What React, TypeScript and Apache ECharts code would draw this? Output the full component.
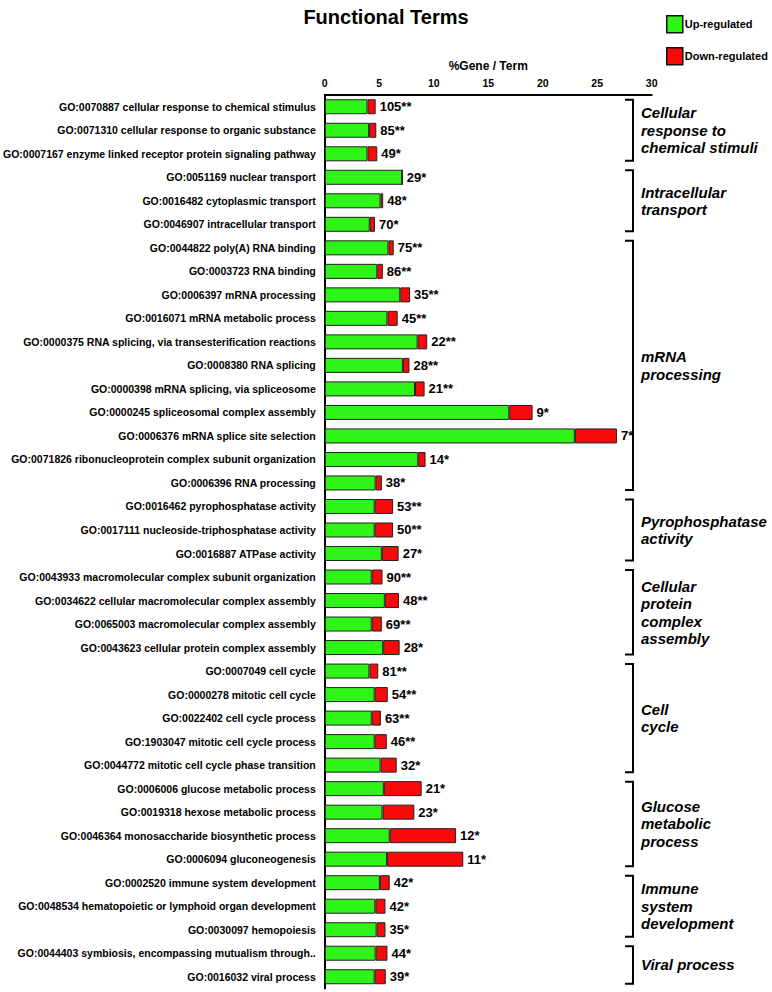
import React, { useEffect, useRef } from "react";
import * as echarts from "echarts";

const categories: string[] = [
  "GO:0070887 cellular response to chemical stimulus",
  "GO:0071310 cellular response to organic substance",
  "GO:0007167 enzyme linked receptor protein signaling pathway",
  "GO:0051169 nuclear transport",
  "GO:0016482 cytoplasmic transport",
  "GO:0046907 intracellular transport",
  "GO:0044822 poly(A) RNA binding",
  "GO:0003723 RNA binding",
  "GO:0006397 mRNA processing",
  "GO:0016071 mRNA metabolic process",
  "GO:0000375 RNA splicing, via transesterification reactions",
  "GO:0008380 RNA splicing",
  "GO:0000398 mRNA splicing, via spliceosome",
  "GO:0000245 spliceosomal complex assembly",
  "GO:0006376 mRNA splice site selection",
  "GO:0071826 ribonucleoprotein complex subunit organization",
  "GO:0006396 RNA processing",
  "GO:0016462 pyrophosphatase activity",
  "GO:0017111 nucleoside-triphosphatase activity",
  "GO:0016887 ATPase activity",
  "GO:0043933 macromolecular complex subunit organization",
  "GO:0034622 cellular macromolecular complex assembly",
  "GO:0065003 macromolecular complex assembly",
  "GO:0043623 cellular protein complex assembly",
  "GO:0007049 cell cycle",
  "GO:0000278 mitotic cell cycle",
  "GO:0022402 cell cycle process",
  "GO:1903047 mitotic cell cycle process",
  "GO:0044772 mitotic cell cycle phase transition",
  "GO:0006006 glucose metabolic process",
  "GO:0019318 hexose metabolic process",
  "GO:0046364 monosaccharide biosynthetic process",
  "GO:0006094 gluconeogenesis",
  "GO:0002520 immune system development",
  "GO:0048534 hematopoietic or lymphoid organ development",
  "GO:0030097 hemopoiesis",
  "GO:0044403 symbiosis, encompassing mutualism through..",
  "GO:0016032 viral process",
];

const upRegulated: number[] = [
  3.92, 4.07, 3.92, 7.11, 5.12, 4.13, 5.84, 4.82, 6.93, 5.75, 8.52, 7.17, 8.28,
  16.93, 22.95, 8.58, 4.67, 4.58, 4.58, 5.24, 4.31, 5.51, 4.31, 5.36, 4.1, 4.58,
  4.31, 4.58, 5.12, 5.42, 5.3, 5.96, 5.72, 5.06, 4.64, 4.76, 4.67, 4.58,
];

const downRegulated: number[] = [
  0.75, 0.66, 0.9, 0, 0.24, 0.48, 0.49, 0.51, 0.9, 0.94, 0.88, 0.6, 0.88, 2.14,
  3.86, 0.67, 0.57, 1.69, 1.69, 1.54, 0.99, 1.3, 0.93, 1.51, 0.81, 1.2, 0.84,
  1.11, 1.48, 3.47, 2.92, 6.09, 6.99, 0.9, 0.93, 0.81, 1.08, 1.02,
];

const geneCounts: number[] = [
  105, 85, 49, 29, 48, 70, 75, 86, 35, 45, 22, 28, 21, 9, 7, 14, 38, 53, 50, 27,
  90, 48, 69, 28, 81, 54, 63, 46, 32, 21, 23, 12, 11, 42, 42, 35, 44, 39,
];

const significance: string[] = [
  "**", "**", "*", "*", "*", "*", "**", "**", "**", "**", "**", "**", "**", "*",
  "*", "*", "*", "**", "**", "*", "**", "**", "**", "*", "**", "**", "**", "**",
  "*", "*", "*", "*", "*", "*", "*", "*", "*", "*",
];

const groupNames: string[] = [
  "Cellular\nresponse to\nchemical stimuli",
  "Intracellular\ntransport",
  "mRNA\nprocessing",
  "Pyrophosphatase\nactivity",
  "Cellular\nprotein\ncomplex\nassembly",
  "Cell\ncycle",
  "Glucose\nmetabolic\nprocess",
  "Immune\nsystem\ndevelopment",
  "Viral process",
];
const groupSizes: number[] = [3, 3, 11, 3, 4, 5, 4, 3, 2];

const xTicks = { min: 0, max: 30, interval: 5 };

const FONT = "'Liberation Sans', Arial, sans-serif";
const GREEN = "#2ff417";
const RED = "#f80a0a";

export default function App() {
  const ref = useRef<HTMLDivElement>(null);

  useEffect(() => {
    if (!ref.current) return;
    const chart = echarts.init(ref.current, null, { renderer: "svg" });
    const option: any = {
      animation: false,
      backgroundColor: "#ffffff",
      textStyle: { fontFamily: FONT },
      title: {
        text: "Functional Terms",
        left: "center",
        top: 2,
        textStyle: { fontSize: 20, fontWeight: "bold", color: "#000", fontFamily: FONT },
      },
      legend: {
        data: ["Up-regulated", "Down-regulated"],
        orient: "vertical",
        left: 666,
        top: 15,
        padding: 0,
        itemWidth: 16,
        itemHeight: 17,
        itemGap: 13.5,
        icon: "rect",
        itemStyle: { borderColor: "#111", borderWidth: 1.5 },
        textStyle: { fontSize: 11, fontWeight: "bold", color: "#000", padding: [0, 0, 0, -3], fontFamily: FONT },
      },
      grid: { left: 320.5, right: 120.3, top: 95, bottom: 3.5, containLabel: false },
      xAxis: {
        type: "value",
        position: "top",
        min: xTicks.min,
        max: xTicks.max,
        interval: xTicks.interval,
        name: "%Gene / Term",
        nameLocation: "middle",
        nameGap: 23,
        nameTextStyle: { fontSize: 12, fontWeight: "bold", color: "#000", fontFamily: FONT },
        axisLine: { show: true, lineStyle: { color: "#000", width: 2 } },
        axisTick: { show: false },
        splitLine: { show: false },
        axisLabel: { fontSize: 10.5, fontWeight: "bold", color: "#000", margin: 7, fontFamily: FONT },
      },
      yAxis: {
        type: "category",
        inverse: true,
        data: categories,
        axisLine: { show: true, lineStyle: { color: "#000", width: 2 } },
        axisTick: { show: false },
        splitLine: { show: false },
        axisLabel: { fontSize: 10.5, fontWeight: "bold", color: "#000", margin: 9, fontFamily: FONT },
      },
      series: [
        {
          name: "Up-regulated",
          type: "bar",
          stack: "total",
          barWidth: 15,
          data: upRegulated,
          itemStyle: { color: GREEN, borderColor: "#222", borderWidth: 1 },
        },
        {
          name: "Down-regulated",
          type: "bar",
          stack: "total",
          barWidth: 15,
          data: downRegulated,
          itemStyle: { color: RED, borderColor: "#222", borderWidth: 1 },
          label: {
            show: true,
            position: "right",
            distance: 4,
            fontSize: 13,
            fontWeight: "bold",
            color: "#000",
            fontFamily: FONT,
            formatter: (p: any) => `${geneCounts[p.dataIndex]}${significance[p.dataIndex]}`,
          },
        },
      ],
    };
    chart.setOption(option);

    // Group brackets, positioned from the category axis
    const graphics: any[] = [];
    let start = 0;
    const bx = 633;
    const tick = 8;
    groupSizes.forEach((size, gi) => {
      const first = categories[start];
      const last = categories[start + size - 1];
      const y0 = (chart.convertToPixel({ yAxisIndex: 0 }, first) as number) - 7;
      const y1 = (chart.convertToPixel({ yAxisIndex: 0 }, last) as number) + 7;
      graphics.push({
        type: "polyline",
        shape: { points: [[bx - tick, y0], [bx, y0], [bx, y1], [bx - tick, y1]] },
        style: { stroke: "#000", lineWidth: 2, fill: null },
        silent: true,
      });
      graphics.push({
        type: "text",
        x: 641,
        y: (y0 + y1) / 2,
        style: {
          text: groupNames[gi],
          fontFamily: FONT,
          fontSize: 15,
          fontWeight: "bold",
          fontStyle: "italic",
          lineHeight: 17.5,
          fill: "#000",
          verticalAlign: "middle",
          align: "left",
        },
        silent: true,
      });
      start += size;
    });
    chart.setOption({ graphic: graphics });

    return () => chart.dispose();
  }, []);

  return (
    <div
      ref={ref}
      style={{ position: "absolute", left: 0, top: 0, width: 772, height: 992 }}
    />
  );
}
